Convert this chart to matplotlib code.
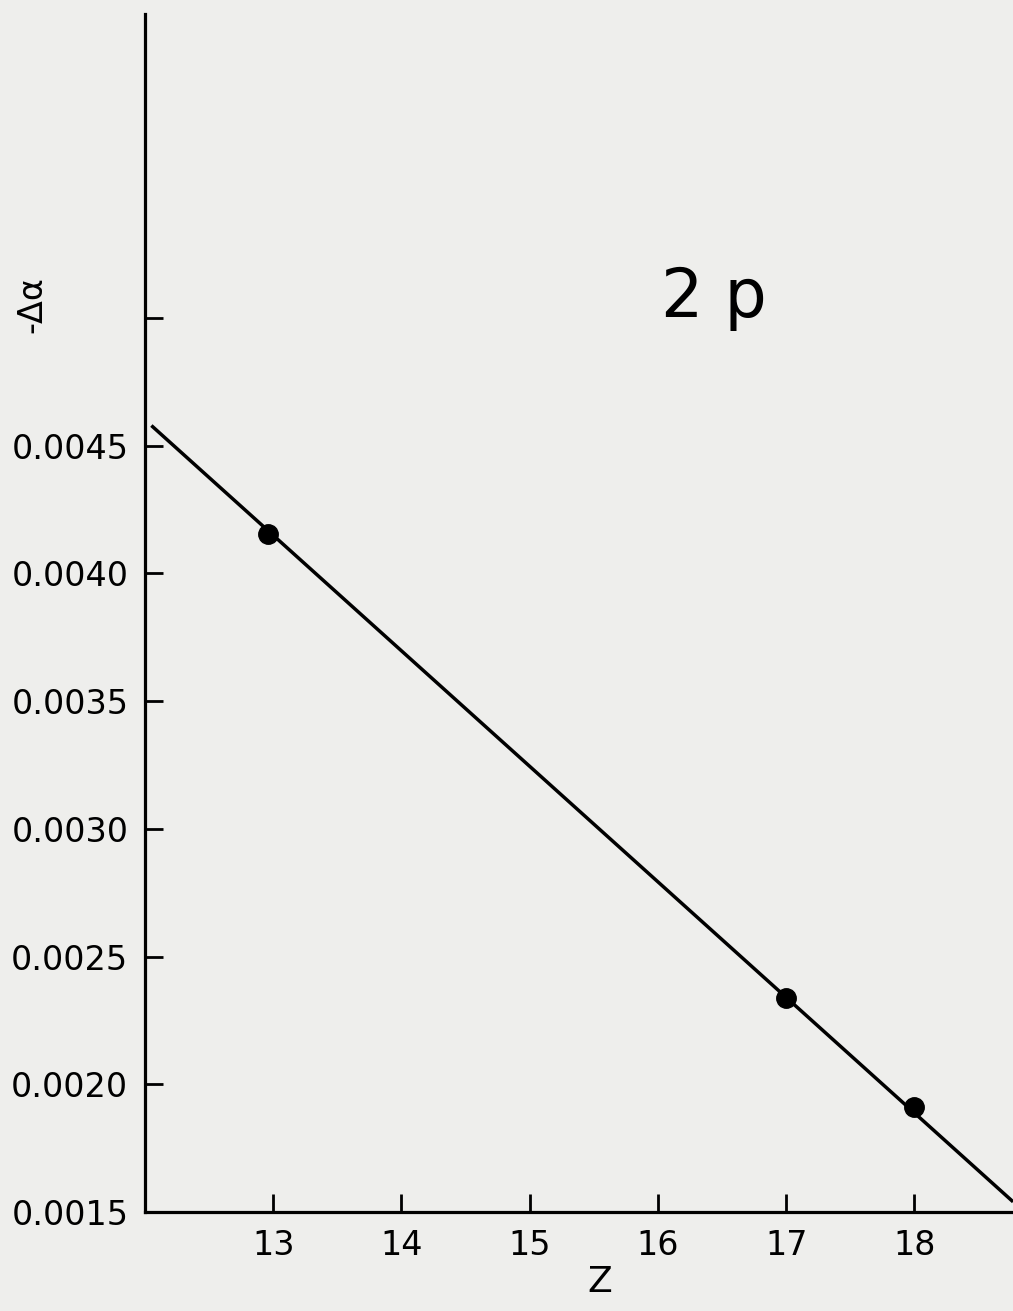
import matplotlib
matplotlib.use('Agg')
import matplotlib.pyplot as plt

# data
z_points = [12.96, 17.0, 18.0]
da_points = [0.004155, 0.002337, 0.001911]

# fitted straight line, endpoints
z_line = [12.05, 18.77]
da_line = [0.004579, 0.00154]

y_ticks = [0.0015, 0.0020, 0.0025, 0.0030, 0.0035, 0.0040, 0.0045, 0.0050]
y_labels = ['0.0015', '0.0020', '0.0025', '0.0030', '0.0035', '0.0040', '0.0045', '']
x_ticks = [13, 14, 15, 16, 17, 18]
x_labels = ['13', '14', '15', '16', '17', '18']

paper = '#eeeeec'
plt.rcParams['font.family'] = ['DejaVu Sans']

fig = plt.figure(figsize=(10.13, 13.11), dpi=100, facecolor=paper)
ax = fig.add_axes([0.1431, 0.0755, 0.857, 0.9138], facecolor=paper)

ax.plot(z_line, da_line, color='black', linewidth=2.5, solid_capstyle='butt')
ax.plot(z_points, da_points, 'o', color='black', markersize=14)

ax.set_xlim(12.0, 18.77)
ax.set_ylim(0.0015, 0.00619)

ax.spines['top'].set_visible(False)
ax.spines['right'].set_visible(False)
ax.spines['left'].set_linewidth(2.3)
ax.spines['bottom'].set_linewidth(2.3)

ax.set_yticks(y_ticks)
ax.set_yticklabels(y_labels)
ax.set_xticks(x_ticks)
ax.set_xticklabels(x_labels)
ax.tick_params(direction='in', length=13, width=2, labelsize=24, pad=12)
ax.tick_params(axis='y', pad=12)

fig.text(600 / 1013, 1 - 1282 / 1311, 'Z', fontsize=26, ha='center', va='center')
fig.text(32 / 1013, 1 - 305 / 1311, '-Δα', fontsize=24, rotation=90,
         ha='center', va='center')
fig.text(714 / 1013, 1 - 298 / 1311, '2 p', fontsize=48, ha='center', va='center')

fig.savefig('out.png', dpi=100, facecolor=paper)
